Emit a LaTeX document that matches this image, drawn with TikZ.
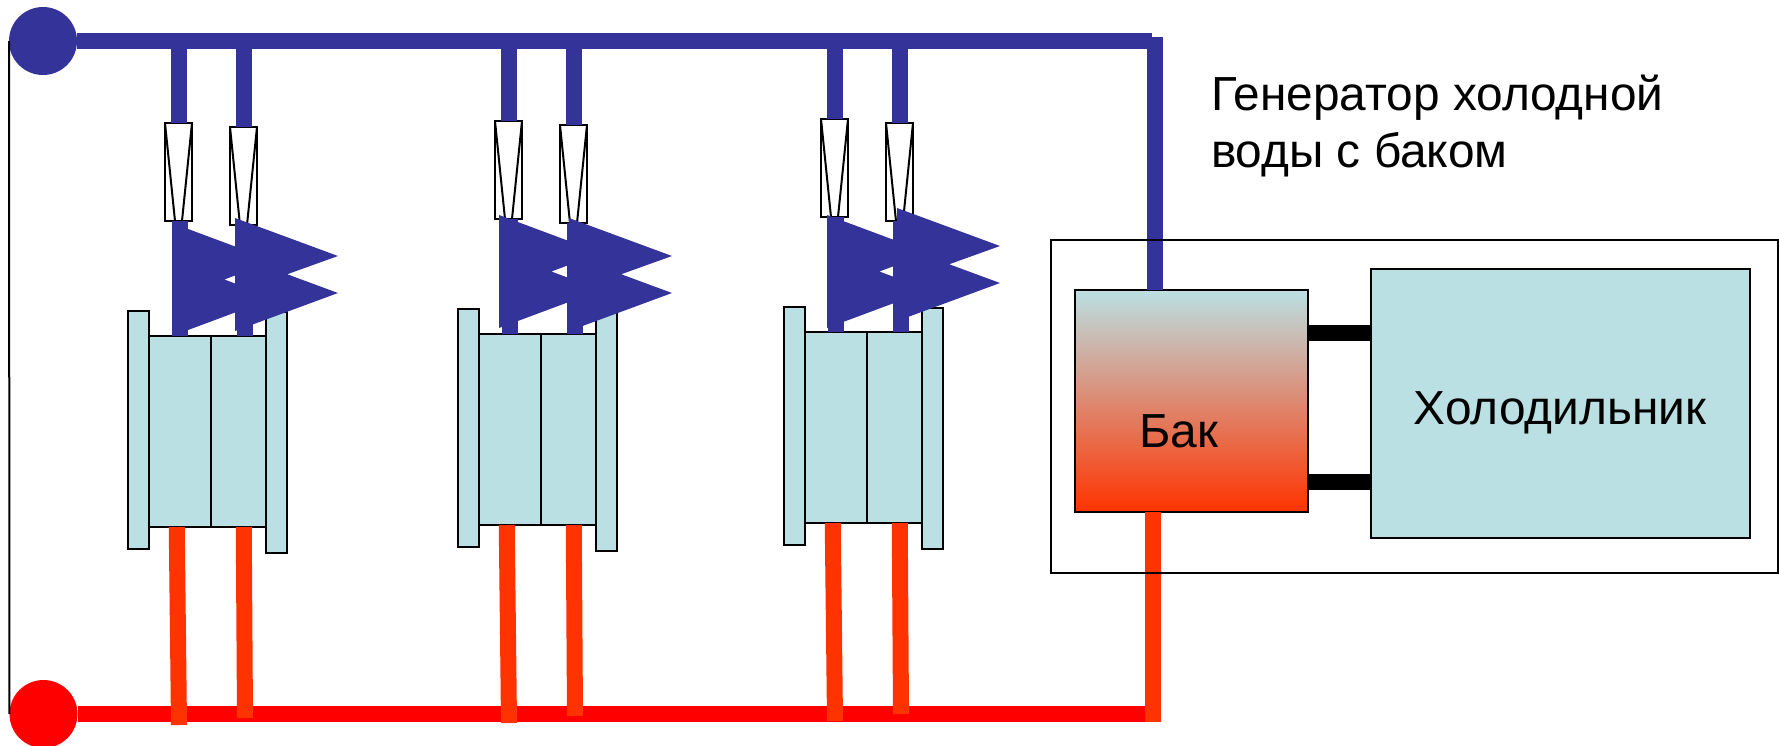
\documentclass[tikz,border=0pt]{standalone}
\usepackage{fontspec}
\setmainfont{Liberation Sans}
\usepackage{xcolor}
\definecolor{coldblue}{HTML}{333399}
\definecolor{hotorange}{HTML}{FF3300}
\definecolor{busred}{HTML}{FF0000}
\definecolor{lightbox}{HTML}{BBE0E3}

\begin{document}
\begin{tikzpicture}[
x=1pt,y=-1pt,
every node/.style={inner sep=0pt,outer sep=0pt},
bigtext/.style={font=\fontsize{47.8}{57}\selectfont},
frame/.style={draw,line width=2pt},
plate/.style={frame,fill=lightbox,anchor=north west,minimum width=21pt,minimum height=#1},
coil/.style={frame,fill=lightbox,anchor=north west,minimum width=#1,minimum height=191pt},
valve/.style={
  frame,
  fill=white,
  anchor=north west,
  minimum width=27pt,
  minimum height=98pt,
  path picture={
    \draw[line width=2pt] (path picture bounding box.north west) -- ([xshift=10pt]path picture bounding box.south west);
    \draw[line width=2pt] (path picture bounding box.north east) -- ([xshift=-10pt]path picture bounding box.south east);
  }
},
portcold/.style={circle,fill=coldblue,minimum size=68pt},
porthot/.style={circle,fill=busred,minimum size=68pt},
coldpipe/.style={coldblue,line width=16pt},
hotpipe/.style={hotorange,line width=16pt},
hotbus/.style={busred,line width=16pt},
linkbar/.style={black,line width=16pt}
]
\useasboundingbox (0,0) rectangle (1779,745);

\node[portcold] (coldin) at (43,41) {};
\node[porthot] (hotin) at (43.5,714) {};
\coordinate (coldend) at (1152,41);
\coordinate (coldtop) at (1155,37);
\coordinate (hotend) at (1145,714);
\coordinate (hotbot) at (1153,722);

\node[frame,anchor=north west,minimum width=233pt,minimum height=222pt,top color=lightbox,bottom color=hotorange] (tank) at (1075,290) {};
\node[frame,anchor=north west,minimum width=379pt,minimum height=269pt,fill=lightbox] (cooler) at (1371,269) {};
\node[bigtext] (coolerlabel) at (1560,413) {Холодильник};
\node[bigtext] (tanklabel) at (1179,431) {Бак};
\node[bigtext,anchor=north west,align=left] (title) at (1211,75) {Генератор холодной\\воды с баком};

\draw[line width=2pt] (coldin.west) -- (hotin.west);
\draw[coldpipe] (coldin) -- (coldend);
\draw[coldpipe] (coldtop) -- (coldtop |- tank.north);
\draw[hotbus] (hotin) -- (hotend);
\draw[hotpipe] (hotbot) -- (hotbot |- tank.south);
\draw[linkbar] (tank.east |- 0,333) -- (cooler.west |- 0,333);
\draw[linkbar] (tank.east |- 0,482) -- (cooler.west |- 0,482);

\foreach \g/\dx/\dy/\lx/\ly/\rx/\ry in {1/0/0/0/0/0/0,2/330/-2/327/-8/334/0,3/656/-4/655/-8/662/-10}{
  \begin{scope}[shift={(\dx,\dy)}]
    \node[valve] (valveA\g) at (165,123) {};
    \node[valve] (valveB\g) at (230,127) {};
    \node[plate=238pt] (plateL\g) at (128,311) {};
    \node[plate=241pt] (plateR\g) at (266,312) {};
    \node[coil=61.5pt] (coilA\g) at (149,336) {};
    \node[coil=55.5pt] (coilB\g) at (210.5,336) {};
    \coordinate (hotA\g) at (179,725);
    \coordinate (hotB\g) at (245,718);
    \draw[coldpipe] (valveA\g.north |- coldin) -- (valveA\g.north);
    \draw[coldpipe] (valveB\g.north |- coldin) -- (valveB\g.north);
    \draw[coldpipe] (coilA\g.north) -- (coilA\g.north |- valveA\g.south);
    \draw[coldpipe] ([xshift=6.5pt]coilB\g.north) -- ([xshift=6.5pt]coilB\g.north |- valveB\g.south);
    \draw[hotpipe] ([xshift=-3pt]coilA\g.south) -- (hotA\g);
    \draw[hotpipe] ([xshift=5.5pt]coilB\g.south) -- (hotB\g);
  \end{scope}
  \fill[coldblue,shift={(\lx,\ly)}] (172,223) -- (274,261) -- (172,299) -- cycle
    (172,260) -- (274,298) -- (172,336) -- cycle;
  \fill[coldblue,shift={(\rx,\ry)}] (235,218) -- (338,256) -- (235,293) -- cycle
    (235,255) -- (338,293) -- (235,331) -- cycle;
}

\node[frame,anchor=north west,minimum width=727pt,minimum height=333pt] (generator) at (1051,240) {};
\end{tikzpicture}
\end{document}
